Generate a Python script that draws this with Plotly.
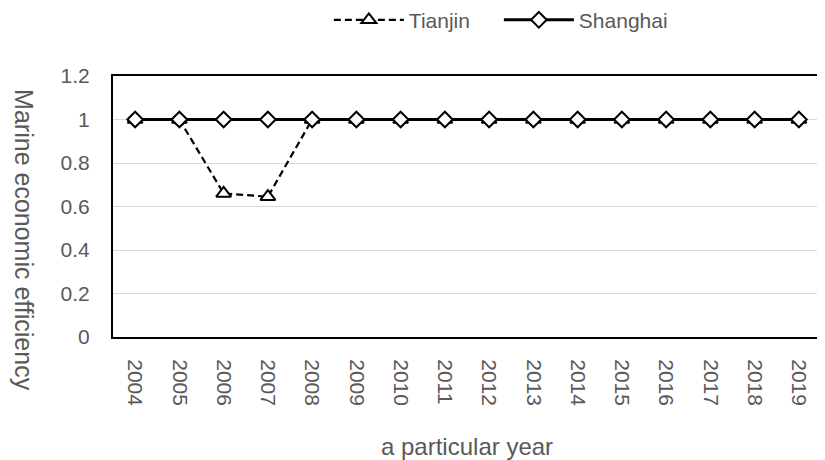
import plotly.graph_objects as go

years = ["2004", "2005", "2006", "2007", "2008", "2009", "2010", "2011",
         "2012", "2013", "2014", "2015", "2016", "2017", "2018", "2019"]
tianjin = [1, 1, 0.66, 0.645, 1, 1, 1, 1, 1, 1, 1, 1, 1, 1, 1, 1]
shanghai = [1, 1, 1, 1, 1, 1, 1, 1, 1, 1, 1, 1, 1, 1, 1, 1]
y_ticks = [0, 0.2, 0.4, 0.6, 0.8, 1, 1.2]
y_ticktext = ["0", "0.2", "0.4", "0.6", "0.8", "1", "1.2"]

FONT = "Liberation Sans"
GRAY = "#595959"

fig = go.Figure()
fig.add_trace(go.Scatter(
    x=years, y=tianjin, name="Tianjin", mode="lines+markers",
    line=dict(color="black", width=2.2, dash="7px,4px"),
    marker=dict(symbol="triangle-up", size=13, color="white",
                line=dict(color="black", width=2)),
))
fig.add_trace(go.Scatter(
    x=years, y=shanghai, name="Shanghai", mode="lines+markers",
    line=dict(color="black", width=3),
    marker=dict(symbol="diamond", size=12, color="white",
                line=dict(color="black", width=2)),
))

fig.update_layout(
    width=817, height=452,
    margin=dict(l=105, r=4, t=68, b=123, autoexpand=False),
    paper_bgcolor="white", plot_bgcolor="white",
    font=dict(family=FONT, size=21, color=GRAY),
    showlegend=True,
    legend=dict(orientation="h", x=0.545, xanchor="center", y=1.214, yanchor="middle",
                font=dict(family=FONT, size=21, color=GRAY), itemwidth=70,
                entrywidth=85, entrywidthmode="pixels",
                bgcolor="rgba(0,0,0,0)"),
    xaxis=dict(type="category", range=[-0.5, 15.5], tickangle=90,
               showgrid=False, showline=True, linecolor="black", linewidth=2,
               mirror=True, ticks="", ticklabelstandoff=16, automargin=False,
               tickfont=dict(family=FONT, size=21, color=GRAY)),
    yaxis=dict(range=[0, 1.2], tickvals=y_ticks, ticktext=y_ticktext,
               showgrid=True, gridcolor="#d9d9d9", gridwidth=1,
               showline=True, linecolor="black", linewidth=2, mirror=True,
               ticks="", ticklabelstandoff=17, zeroline=False, automargin=False,
               tickfont=dict(family=FONT, size=21, color=GRAY)),
    annotations=[
        dict(text="Marine economic efficiency", textangle=90, xref="paper", yref="paper",
             x=-0.126, y=0.372, xanchor="center", yanchor="middle", showarrow=False,
             font=dict(family=FONT, size=25, color=GRAY)),
        dict(text="a particular year", xref="paper", yref="paper",
             x=0.5, y=-0.42, xanchor="center", yanchor="middle", showarrow=False,
             font=dict(family=FONT, size=24, color=GRAY)),
    ],
)

fig.write_html("out.html")
